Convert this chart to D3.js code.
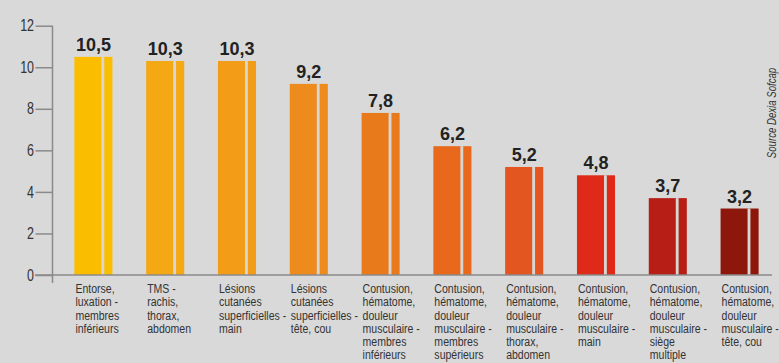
<!DOCTYPE html>
<html>
<head>
<meta charset="utf-8">
<script src="https://cdn.jsdelivr.net/npm/d3@7"></script>
<style>
  body { margin: 0; background: #d9d9d9; }
  svg { display: block; }
  .narrow { font-family: "Liberation Sans", Arial, sans-serif; }
</style>
</head>
<body>
<div id="chart"></div>
<script>
// data
var categories = [
  ["Entorse,", "luxation -", "membres", "inférieurs"],
  ["TMS -", "rachis,", "thorax,", "abdomen"],
  ["Lésions", "cutanées", "superficielles -", "main"],
  ["Lésions", "cutanées", "superficielles -", "tête, cou"],
  ["Contusion,", "hématome,", "douleur", "musculaire -", "membres", "inférieurs"],
  ["Contusion,", "hématome,", "douleur", "musculaire -", "membres", "supérieurs"],
  ["Contusion,", "hématome,", "douleur", "musculaire -", "thorax,", "abdomen"],
  ["Contusion,", "hématome,", "douleur", "musculaire -", "main"],
  ["Contusion,", "hématome,", "douleur", "musculaire -", "siège", "multiple"],
  ["Contusion,", "hématome,", "douleur", "musculaire -", "tête, cou"]
];
var values = [10.5, 10.3, 10.3, 9.2, 7.8, 6.2, 5.2, 4.8, 3.7, 3.2];
var colors = ["#fbbd00", "#f4a914", "#f29c18", "#ed8b1c", "#e97a1c", "#e8691c", "#e4561f", "#df2a19", "#b71e15", "#8e170c"];
var yTicks = [0, 2, 4, 6, 8, 10, 12];
var source = "Source Dexia Sofcap";

var width = 779, height = 363;
var squeeze = 0.78; // condensed look
var svg = d3.select("#chart").append("svg")
  .attr("width", width)
  .attr("height", height);

svg.append("rect").attr("width", width).attr("height", height).attr("fill", "#d9d9d9");

var idx = d3.range(values.length);
var x = d3.scaleBand()
  .domain(idx)
  .range([55, 778])
  .paddingInner(0.47)
  .paddingOuter(0.27);

var y = d3.scaleLinear()
  .domain([0, 12])
  .range([275, 25.7]);

// bars
var bars = svg.selectAll(".bar")
  .data(idx)
  .enter()
  .append("g")
  .attr("class", "bar");

bars.append("rect")
  .attr("x", function(d) { return x(d); })
  .attr("width", x.bandwidth())
  .attr("y", function(d) { return y(values[d]); })
  .attr("height", function(d) { return y(0) - y(values[d]); })
  .attr("fill", function(d) { return colors[d]; });

// light stripe in each bar
bars.append("rect")
  .attr("x", function(d) { return x(d) + x.bandwidth() * 0.71; })
  .attr("width", x.bandwidth() * 0.075)
  .attr("y", function(d) { return y(values[d]); })
  .attr("height", function(d) { return y(0) - y(values[d]); })
  .attr("fill", "#d8d6d2");

// value labels
bars.append("text")
  .attr("x", function(d) { return x(d) + x.bandwidth() / 2; })
  .attr("y", function(d) { return y(values[d]) - 6; })
  .attr("text-anchor", "middle")
  .style("font-family", "'Liberation Sans', Arial, sans-serif")
  .style("font-weight", "bold")
  .style("font-size", "18px")
  .attr("fill", "#222")
  .text(function(d) { return String(values[d]).replace(".", ","); });

// y axis
var yAxis = svg.append("g")
  .attr("transform", "translate(52.5,0)")
  .call(d3.axisLeft(y).tickValues(yTicks).tickSize(17).tickPadding(2));
yAxis.select(".domain").remove();
yAxis.selectAll("line").attr("stroke", "#8a8a8a").attr("stroke-width", 1.5);
yAxis.selectAll("text")
  .attr("x", 0)
  .attr("transform", "translate(-18.5,0) scale(" + squeeze + ",1)")
  .attr("class", "narrow")
  .style("font-size", "16px")
  .attr("fill", "#333");

svg.append("line")
  .attr("x1", 52.5).attr("x2", 52.5)
  .attr("y1", y(12)).attr("y2", y(0) + 8)
  .attr("stroke", "#8a8a8a").attr("stroke-width", 1.5);

svg.append("line")
  .attr("x1", 35).attr("x2", 772)
  .attr("y1", y(0)).attr("y2", y(0))
  .attr("stroke", "#8a8a8a").attr("stroke-width", 1.5);

// category labels
var labels = svg.selectAll(".cat")
  .data(idx)
  .enter()
  .append("text")
  .attr("class", "narrow cat")
  .attr("transform", function(d) { return "translate(" + (x(d) + 1) + ",293) scale(" + squeeze + ",1)"; })
  .style("font-size", "13.5px")
  .attr("fill", "#333");

labels.selectAll("tspan")
  .data(function(d) { return categories[d]; })
  .enter()
  .append("tspan")
  .attr("x", 0)
  .attr("dy", function(d, i) { return i == 0 ? 0 : 13.3; })
  .text(function(d) { return d; });

// source
svg.append("text")
  .attr("transform", "translate(776,113) rotate(-90) scale(0.77,1)")
  .attr("text-anchor", "middle")
  .attr("class", "narrow")
  .style("font-style", "italic")
  .style("font-size", "12.5px")
  .attr("fill", "#333")
  .text(source);
</script>
</body>
</html>
